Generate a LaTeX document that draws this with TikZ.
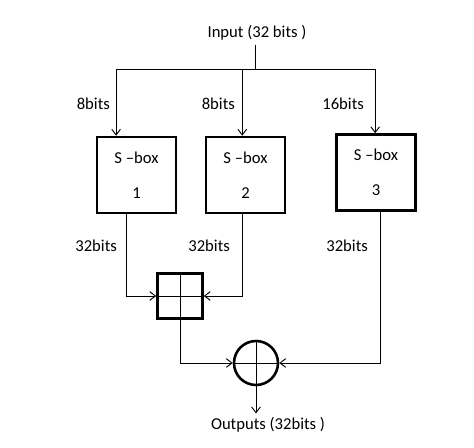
\documentclass[tikz,border=0pt]{standalone}
\usepackage{fontspec}
\setmainfont{Carlito}
\usetikzlibrary{shapes.geometric, arrows.meta, calc}

\begin{document}
\begin{tikzpicture}[x = 0.03cm, y = -0.03cm, font = \fontsize{14.2}{17}\selectfont]
	\tikzstyle{sbox} = [rectangle, draw = black, line width = 2.2pt, minimum width = 2.37cm, minimum height = 2.28cm, align = center]
	\tikzstyle{line} = [line width = 0.8pt, >={Straight Barb[length=1.7mm, width=2.6mm]}]
	\tikzstyle{adder} = [rectangle, draw = black, line width = 2.2pt, minimum size = 1.35cm, inner sep = 0pt]
	\tikzstyle{xorop} = [circle, draw = black, line width = 2.2pt, minimum size = 1.32cm, inner sep = 0pt]
	\useasboundingbox (0,0) rectangle (474,448);
	\node(in) at (257,33) {Input (32 bits )};
	\coordinate(split) at (255,69);
	\node(s1)[sbox] at (136.5,175) {S --box\\[13pt]1};
	\node(s2)[sbox] at (245.5,175) {S --box\\[13pt]2};
	\node(s3)[sbox] at (376,172.5) {S --box\\[13pt]3};
	\node(add)[adder] at (180,296) {};
	\node(xor)[xorop] at (256,363) {};
	\node(out) at (268,425) {Outputs (32bits )};
	\coordinate(i1) at ($(s1.north west)!0.25!(s1.north east)$);
	\coordinate(i2) at ($(s2.north west)!0.46!(s2.north east)$);
	\coordinate(i3) at ($(s3.north west)!0.49!(s3.north east)$);
	\coordinate(o1) at ($(s1.south west)!0.38!(s1.south east)$);
	\coordinate(o2) at ($(s2.south west)!0.46!(s2.south east)$);
	\coordinate(o3) at ($(s3.south west)!0.55!(s3.south east)$);
	\node[anchor = east] at (114,104) {8bits};
	\node[anchor = east] at (239,104) {8bits};
	\node[anchor = east] at (368,104) {16bits};
	\node[anchor = east] at (121,246) {32bits};
	\node[anchor = east] at (234,246) {32bits};
	\node[anchor = east] at (372,246) {32bits};
	\draw[line](in.south -| split) -- (split);
	\draw[line,->](split) -| (i1);
	\draw[line,->](split) -| (i2);
	\draw[line,->](split) -| (i3);
	\draw[line,->](o1) |- (add.west);
	\draw[line,->](o2) |- (add.east);
	\draw[line](add.north) -- (add.south);
	\draw[line](add.west) -- (add.east);
	\draw[line,->](add.south) |- (xor.west);
	\draw[line,->](o3) |- (xor.east);
	\draw[line](xor.north) -- (xor.south);
	\draw[line](xor.west) -- (xor.east);
	\draw[line,->](xor.south) -- (xor.south |- out.north);
\end{tikzpicture}
\end{document}
